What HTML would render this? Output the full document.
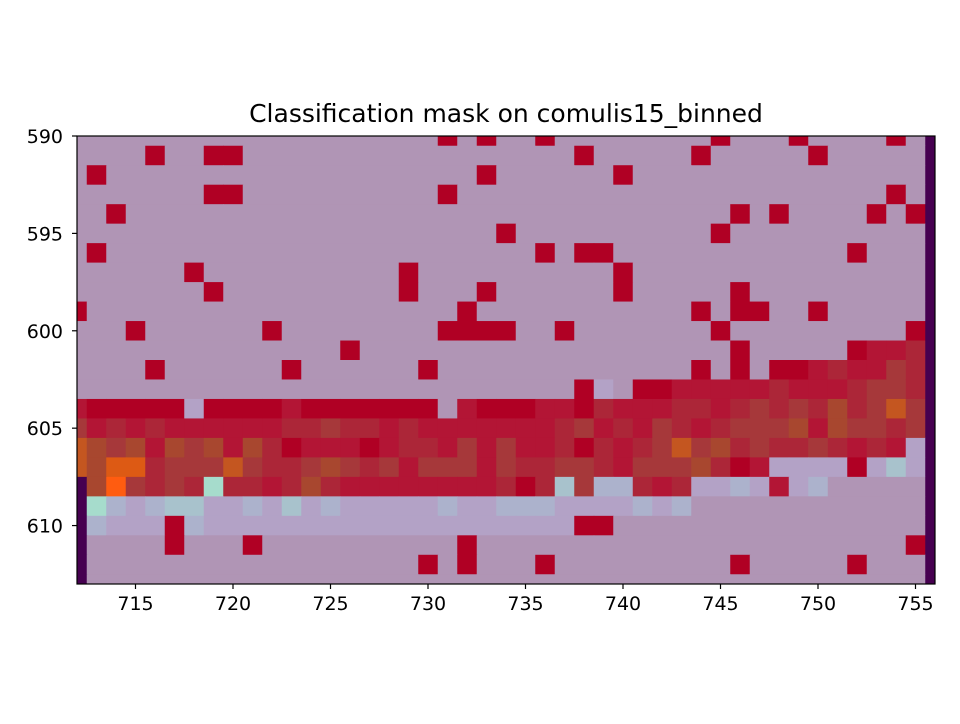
<!DOCTYPE html>
<html><head><meta charset="utf-8"><style>
body{margin:0;background:#fff;width:960px;height:720px;overflow:hidden;font-family:"DejaVu Sans",sans-serif;}
text{font-family:"DejaVu Sans",sans-serif;}
</style></head><body>
<svg id="chart" width="960" height="720" xmlns="http://www.w3.org/2000/svg">
<rect width="960" height="720" fill="#fff"/>
<text x="506" y="122" text-anchor="middle" font-size="25" fill="#000">Classification mask on comulis15_binned</text>
<g id="cells"></g>
<g id="axes"></g>
</svg>
<script>
const xTicks = [715, 720, 725, 730, 735, 740, 745, 750, 755];
const yTicks = [590, 595, 600, 605, 610];
const xDomain = [712, 756];
const yDomain = [590, 613];
const palette = {B:'#b095b5',R:'#b00024',r:'#b31535',m:'#ac2638',M:'#a6383a',o:'#a8472f',O:'#c45620',E:'#dd5a14',F:'#ff5c10',l:'#b3a2c6',L:'#acb2cc',g:'#a8c2cc',G:'#a6dccc',P:'#460050'};
// sparse cells: [row, col, class]
const sparseCells = [
[590,731,'R'],[590,733,'R'],[590,736,'R'],[590,745,'R'],[590,749,'R'],[590,754,'R'],
[591,716,'R'],[591,719,'R'],[591,720,'R'],[591,738,'R'],[591,744,'R'],[591,750,'R'],
[592,713,'R'],[592,733,'R'],[592,740,'R'],
[593,719,'R'],[593,720,'R'],[593,731,'R'],[593,754,'R'],
[594,714,'R'],[594,746,'R'],[594,748,'R'],[594,753,'R'],[594,755,'R'],
[595,734,'R'],[595,745,'R'],
[596,713,'R'],[596,736,'R'],[596,738,'R'],[596,739,'R'],[596,752,'R'],
[597,718,'R'],[597,729,'R'],[597,740,'R'],
[598,719,'R'],[598,729,'R'],[598,733,'R'],[598,740,'R'],[598,746,'R'],
[599,712,'R'],[599,732,'R'],[599,744,'R'],[599,746,'R'],[599,747,'R'],[599,750,'R'],
[600,715,'R'],[600,722,'R'],[600,731,'R'],[600,732,'R'],[600,733,'R'],[600,734,'R'],[600,737,'R'],[600,745,'R'],[600,755,'R'],
[601,726,'R'],[601,746,'R'],[601,752,'R'],[601,753,'r'],[601,754,'r'],[601,755,'m'],
[602,716,'R'],[602,723,'R'],[602,730,'R'],[602,744,'R'],[602,746,'R'],[602,748,'R'],[602,749,'R'],[602,750,'r'],[602,751,'m'],[602,752,'r'],[602,753,'r'],[602,754,'M'],[602,755,'m'],
[611,717,'R'],[611,721,'R'],[611,732,'R'],[611,755,'R'],
[612,730,'R'],[612,732,'R'],[612,736,'R'],[612,746,'R'],[612,752,'R']
];
// dense band rows, columns 712..755
const bandRows = [603,604,605,606,607,608,609,610];
const bandCodes = [
"BBBBBBBBBBBBBBBBBBBBBBBBBBRlBRRrrrrrmrrrmMMm",
"rRRRRRlRRRRrRRRRRRRBrRRRrrRmrrrmmrmMmMmomMOM",
"MrmrmrrrrrrmmMmmrmrrrrrrrmMrmrMmrmMMMoroMMmM",
"OoMoroMoromRrrrRrmmrMrMrrmRmrmMOMomMmmMmrmrl",
"OoEEmMMMOMmmMoMmMrMMMrMmmMMmrMMMomRrllllRlgl",
"PoFMmMmGmmrmomrrrrrrrrmRmgMLLmrmllLlrlLBBBBB",
"PGLlLggllLlglLlllllLllLLLllllLlLBBBBBBBBBBBB",
"PLlllRLlllllllllllllllllllRRBBBBBBBBBBBBBBBB"
];
const L=77,T=136,R=935,Bt=584;
const sx=v=>L+(v-xDomain[0])*(R-L)/(xDomain[1]-xDomain[0]);
const sy=v=>T+(v-yDomain[0])*(Bt-T)/(yDomain[1]-yDomain[0]);
const grid={};
for(let r=yDomain[0];r<=yDomain[1];r++){for(let c=xDomain[0];c<=xDomain[1];c++){grid[r+'_'+c]='B';}
 grid[r+'_'+xDomain[1]]='P'; if(r>=608) grid[r+'_'+xDomain[0]]='P';}
sparseCells.forEach(([r,c,k])=>{grid[r+'_'+c]=k;});
bandRows.forEach((r,i)=>{for(let j=0;j<bandCodes[i].length;j++){grid[r+'_'+(xDomain[0]+j)]=bandCodes[i][j];}});
const NS='http://www.w3.org/2000/svg';
const cg=document.getElementById('cells');
for(let r=yDomain[0];r<=yDomain[1];r++){for(let c=xDomain[0];c<=xDomain[1];c++){
 const x0=sx(Math.max(c-0.5,xDomain[0])),x1=sx(Math.min(c+0.5,xDomain[1]));
 const y0=sy(Math.max(r-0.5,yDomain[0])),y1=sy(Math.min(r+0.5,yDomain[1]));
 const el=document.createElementNS(NS,'rect');
 el.setAttribute('x',x0);el.setAttribute('y',y0);el.setAttribute('width',x1-x0+0.5);el.setAttribute('height',y1-y0+0.5);
 el.setAttribute('fill',palette[grid[r+'_'+c]]);
 
 
 cg.appendChild(el);
}}
const ag=document.getElementById('axes');
const frame=document.createElementNS(NS,'rect');
frame.setAttribute('x',L);frame.setAttribute('y',T);frame.setAttribute('width',R-L);frame.setAttribute('height',Bt-T);
frame.setAttribute('fill','none');frame.setAttribute('stroke','#000');frame.setAttribute('stroke-width','1.2');


ag.appendChild(frame);
xTicks.forEach(v=>{
 const x=sx(v);
 const ln=document.createElementNS(NS,'line');
 ln.setAttribute('x1',x);ln.setAttribute('x2',x);ln.setAttribute('y1',Bt);ln.setAttribute('y2',Bt+5);ln.setAttribute('stroke','#000');ln.setAttribute('stroke-width','1.2');
 
 
 ag.appendChild(ln);
 const t=document.createElementNS(NS,'text');
 t.setAttribute('x',x);t.setAttribute('y',Bt+26);t.setAttribute('text-anchor','middle');t.setAttribute('font-size','19');
 t.textContent=v;
 
 
 ag.appendChild(t);
});
yTicks.forEach(v=>{
 const y=sy(v);
 const ln=document.createElementNS(NS,'line');
 ln.setAttribute('x1',L-5);ln.setAttribute('x2',L);ln.setAttribute('y1',y);ln.setAttribute('y2',y);ln.setAttribute('stroke','#000');ln.setAttribute('stroke-width','1.2');
 
 
 ag.appendChild(ln);
 const t=document.createElementNS(NS,'text');
 t.setAttribute('x',L-14);t.setAttribute('y',y+7);t.setAttribute('text-anchor','end');t.setAttribute('font-size','19');
 t.textContent=v;
 
 
 ag.appendChild(t);
});
</script>
</body></html>
